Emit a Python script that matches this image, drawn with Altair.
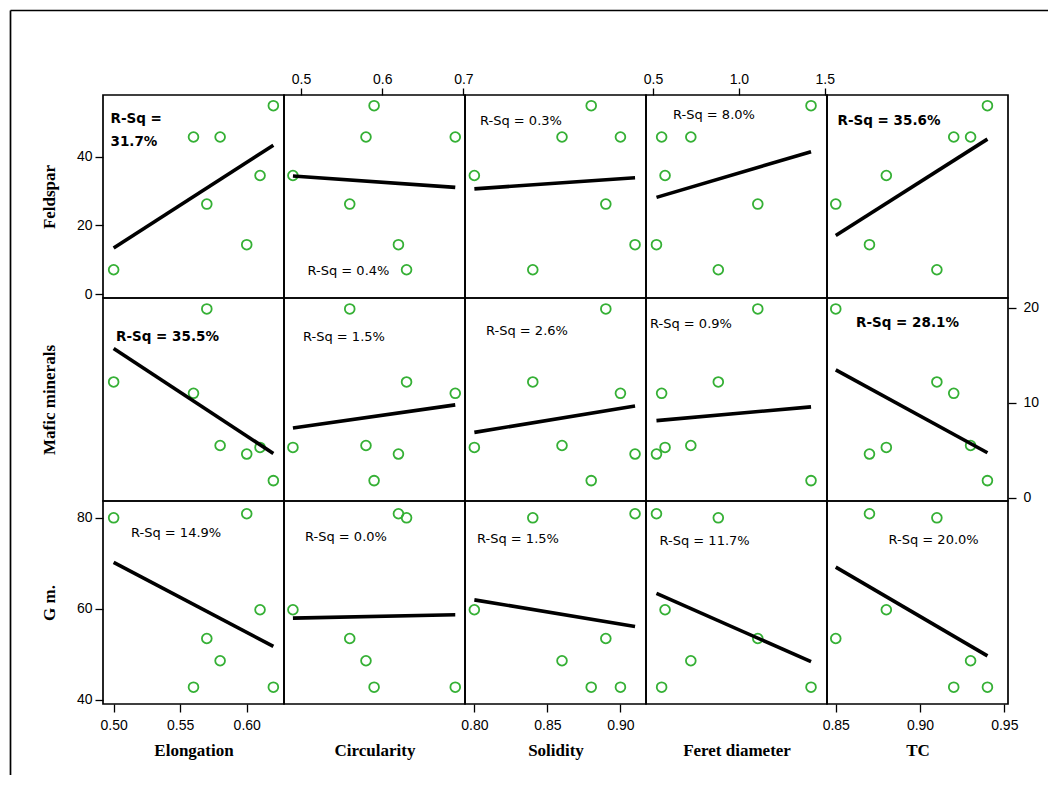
import altair as alt
import pandas as pd

# ---- data ----
samples = ["S1", "S2", "S3", "S4", "S5", "S6", "S7"]
elongation = [0.50, 0.56, 0.58, 0.62, 0.61, 0.57, 0.60]
circularity = [0.63, 0.69, 0.58, 0.59, 0.49, 0.56, 0.62]
solidity = [0.84, 0.90, 0.86, 0.88, 0.80, 0.89, 0.91]
feret = [0.88, 0.55, 0.72, 1.42, 0.57, 1.11, 0.52]
tc = [0.91, 0.92, 0.93, 0.94, 0.88, 0.85, 0.87]
feldspar = [7.1, 45.7, 45.7, 54.8, 34.5, 26.2, 14.4]
mafic = [12.2, 11.0, 5.5, 1.8, 5.3, 19.9, 4.6]
gm = [80.0, 42.8, 48.6, 42.8, 59.8, 53.5, 80.9]

x_names = ["Elongation", "Circularity", "Solidity", "Feret diameter", "TC"]
y_names = ["Feldspar", "Mafic minerals", "G m."]
x_ticks = [[0.50, 0.55, 0.60], [0.5, 0.6, 0.7], [0.80, 0.85, 0.90], [0.5, 1.0, 1.5], [0.85, 0.90, 0.95]]
y_ticks = [[0, 20, 40], [0, 10, 20], [40, 60, 80]]

rsq_text = [
    [["R-Sq =", "31.7%"], ["R-Sq = 0.4%"], ["R-Sq = 0.3%"], ["R-Sq = 8.0%"], ["R-Sq = 35.6%"]],
    [["R-Sq = 35.5%"], ["R-Sq = 1.5%"], ["R-Sq = 2.6%"], ["R-Sq = 0.9%"], ["R-Sq = 28.1%"]],
    [["R-Sq = 14.9%"], ["R-Sq = 0.0%"], ["R-Sq = 1.5%"], ["R-Sq = 11.7%"], ["R-Sq = 20.0%"]],
]
rsq_bold = [
    [True, False, False, False, True],
    [True, False, False, False, True],
    [False, False, False, False, False],
]

df = pd.DataFrame({
    "Sample": samples,
    "Elongation": elongation,
    "Circularity": circularity,
    "Solidity": solidity,
    "Feret": feret,
    "TC": tc,
    "Feldspar": feldspar,
    "Mafic": mafic,
    "Gm": gm,
})

# ---- layout / style ----
x_fields = ["Elongation", "Circularity", "Solidity", "Feret", "TC"]
y_fields = ["Feldspar", "Mafic", "Gm"]
x_domains = [[0.492, 0.628], [0.479, 0.702], [0.7936, 0.9175], [0.459, 1.513], [0.8448, 0.9522]]
y_domains = [[-1.1, 57.9], [-0.35, 21.05], [39.1, 83.7]]
W, H = 181, 203
GREEN = "#35b035"
LABEL_FONT = "Liberation Sans"
TEXT_FONT = "DejaVu Sans"
# label positions inside each panel (px from panel's top-left)
rsq_pos = [
    [[(7.5, 24), (7.5, 47)], [(23.5, 176)], [(15, 26)], [(27, 20)], [(10.5, 26)]],
    [[(13, 39)], [(19, 39)], [(21, 33)], [(4, 26)], [(29, 25)]],
    [[(28, 32)], [(21, 36)], [(12, 38)], [(13.5, 40)], [(61.5, 39)]],
]


def make_panel(r, c):
    xf, yf = x_fields[c], y_fields[r]

    if r == 0 and c in (1, 3):
        xaxis = alt.Axis(orient="top", values=x_ticks[c], format=".1f", title=None,
                         tickSize=7, labelPadding=2)
    elif r == 2:
        if c in (1, 3):
            xaxis = alt.Axis(orient="bottom", title=x_names[c], labels=False, ticks=False,
                             titlePadding=38)
        else:
            xaxis = alt.Axis(orient="bottom", values=x_ticks[c], format=".2f", title=x_names[c],
                             tickSize=8, labelPadding=6, titlePadding=10)
    else:
        xaxis = None

    if c == 0:
        if r == 1:
            yaxis = alt.Axis(orient="left", title=y_names[r], labels=False, ticks=False,
                             titlePadding=45)
        else:
            yaxis = alt.Axis(orient="left", values=y_ticks[r], format="d", title=y_names[r],
                             tickSize=8, labelPadding=3, titlePadding=18)
    elif c == 4 and r == 1:
        yaxis = alt.Axis(orient="right", values=y_ticks[r], format="d", title=None,
                         tickSize=8, labelPadding=7)
    else:
        yaxis = None

    xenc = alt.X(xf, type="quantitative",
                 scale=alt.Scale(domain=x_domains[c], nice=False, zero=False), axis=xaxis)
    yenc = alt.Y(yf, type="quantitative",
                 scale=alt.Scale(domain=y_domains[r], nice=False, zero=False), axis=yaxis)

    base = alt.Chart(df)
    pts = base.mark_point(shape="circle", filled=False, color=GREEN, size=95,
                          strokeWidth=1.8, opacity=1).encode(x=xenc, y=yenc)
    line = base.transform_regression(xf, yf).mark_line(
        color="black", strokeWidth=3.6, strokeCap="butt").encode(x=xenc, y=yenc)

    layers = [pts, line]
    bold = rsq_bold[r][c]
    for txt, (tx, ty) in zip(rsq_text[r][c], rsq_pos[r][c]):
        layers.append(
            alt.Chart(pd.DataFrame({"t": [txt]})).mark_text(
                align="left", baseline="middle", font=TEXT_FONT,
                fontSize=13.5 if bold else 13, fontWeight="bold" if bold else "normal",
                color="black",
            ).encode(x=alt.value(tx), y=alt.value(ty), text="t:N")
        )

    if r == 0 and c == 0:
        frame = pd.DataFrame({"k": [0]})
        layers.append(alt.Chart(frame).mark_rule(color="black", strokeWidth=1.7).encode(
            x=alt.value(-92.5), y=alt.value(-84.5), y2=alt.value(680)))
        layers.append(alt.Chart(frame).mark_rule(color="black", strokeWidth=1.7).encode(
            x=alt.value(-92.5), x2=alt.value(945), y=alt.value(-84.5)))

    return alt.layer(*layers).properties(width=W, height=H)


panels = [make_panel(r, c) for r in range(3) for c in range(5)]

chart = alt.concat(*panels, columns=5, spacing=0, bounds="flush").properties(
    padding=0, background="white"
).configure_view(
    stroke="black", strokeWidth=1.7
).configure_axis(
    grid=False, domain=False,
    labelFont=LABEL_FONT, labelFontSize=14, labelColor="black",
    tickColor="black", tickWidth=1.3,
    titleFont="Liberation Serif", titleFontSize=17, titleFontWeight="bold", titleColor="black",
)

chart.save("out.html", embed_options={"renderer": "svg", "actions": False})
